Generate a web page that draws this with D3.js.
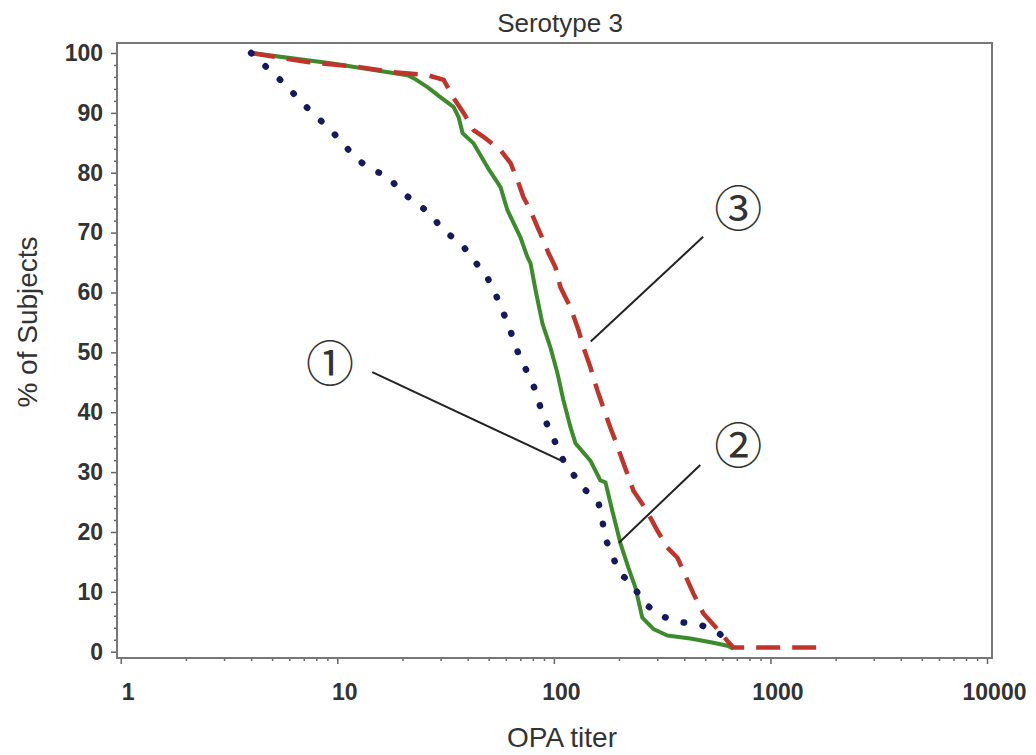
<!DOCTYPE html>
<html>
<head>
<meta charset="utf-8">
<script src="https://cdn.jsdelivr.net/npm/d3@7"></script>
<style>
  body { margin: 0; background: #fff; }
  text { font-family: "Liberation Sans", Arial, sans-serif; fill: #333; }
</style>
</head>
<body>
<div id="chart"></div>
<script>
// OPA titer (x) and % of subjects at or above it (y)
var curve1_titer = [4, 4.82, 5.65, 6.56, 7.61, 8.93, 10.4, 11.9, 13.9, 17.3, 19.6, 23.5, 27.5, 31.0, 37.1, 41.7, 48.3, 52.6, 56.7, 61.1, 65.1, 69.4, 76.4, 82.3, 86.7, 93.4, 101.7, 110.7, 121.8, 137, 160.7, 167.5, 173, 186, 201, 233, 256, 297, 364, 460, 575, 674];
var curve1_pct   = [100, 97.3, 95.0, 92.5, 90.1, 87.8, 85.3, 82.8, 80.8, 79.3, 76.8, 74.9, 72.7, 70.2, 68.4, 65.7, 63.2, 60.4, 57.9, 54.8, 52.2, 49.2, 46.3, 43.6, 40.8, 37.8, 34.9, 31.9, 29.8, 27.3, 24.9, 21.9, 18.9, 16.1, 13.2, 11.0, 8.5, 6.4, 5.0, 4.7, 3.2, 0.7];

var curve2_titer = [4, 9.31, 21.1, 22.5, 26.1, 30.0, 34.4, 36.3, 37.9, 42.6, 49.4, 56.7, 61.1, 70.1, 75.5, 78.0, 82.3, 88.6, 96.4, 103.9, 110.7, 119.3, 125.9, 147.5, 164, 173, 186, 203, 221, 238, 256, 288, 334, 427, 545, 633, 674];
var curve2_pct   = [100, 98.3, 96.3, 95.8, 94.3, 92.6, 91.0, 89.3, 86.6, 84.9, 80.9, 77.6, 73.7, 69.2, 65.9, 64.9, 60.4, 54.8, 50.8, 46.5, 42.0, 37.5, 34.8, 31.9, 28.6, 28.3, 23.6, 18.1, 14.0, 10.7, 5.7, 3.8, 2.7, 2.2, 1.5, 1.0, 0.5];

var curve3_titer = [4, 7.29, 12.4, 18.2, 26.1, 31.0, 34.4, 38.3, 42.6, 47.3, 56.7, 63.1, 67.9, 72.4, 78.0, 84.0, 89.5, 94.4, 101.7, 107.2, 119.3, 130, 137, 147.5, 159, 169, 182, 192, 210, 233, 256, 279, 301, 334, 372, 396, 441, 490, 569, 633, 674, 1645];
var curve3_pct   = [100, 98.5, 97.7, 96.8, 96.3, 95.5, 92.5, 90.0, 87.1, 86.0, 83.8, 81.6, 78.8, 75.9, 73.7, 70.9, 68.7, 66.6, 64.2, 60.9, 57.5, 53.7, 50.8, 47.5, 43.6, 40.8, 37.5, 35.3, 31.4, 26.9, 24.7, 22.4, 20.2, 17.4, 15.7, 13.5, 9.7, 6.4, 3.8, 1.8, 0.7, 0.7];

var x_ticks = [1, 10, 100, 1000, 10000];
var y_ticks = [0, 10, 20, 30, 40, 50, 60, 70, 80, 90, 100];

// circled labels and their leader lines, in data units
var note_text  = ["\u2460", "\u2461", "\u2462"];
var note_pos   = [[9.26, 48.7], [711, 35.0], [711, 74.6]];
var note_from  = [[14.5, 46.7], [474, 31.2], [489, 69.3]];
var note_to    = [[106.9, 32.0], [199.7, 18.2], [148, 51.8]];

var width = 1036, height = 755;
var plot = {left: 117, top: 43, right: 992, bottom: 658};

var svg = d3.select("#chart").append("svg")
  .attr("width", width)
  .attr("height", height);

var x = d3.scaleLog().domain([0.961, 10546]).range([plot.left, plot.right]);
var y = d3.scaleLinear().domain([-1.05, 101.67]).range([plot.bottom, plot.top]);

// minor ticks
var x_minor = [];
x_ticks.slice(0, -1).forEach(function(t) {
  for (var k = 2; k <= 9; k++) x_minor.push(t * k);
});
var y_minor = d3.range(0, 101, 2).filter(function(v) { return v % 10 !== 0; });

var gx = svg.append("g").attr("transform", "translate(0," + plot.bottom + ")");
gx.call(d3.axisBottom(x).tickValues(x_minor).tickSize(3).tickFormat(""));
gx.append("g").call(d3.axisBottom(x).tickValues(x_ticks).tickSize(6).tickPadding(20).tickFormat(d3.format("d")));
gx.selectAll(".domain").remove();
gx.selectAll("line").attr("stroke", "#666").attr("stroke-width", 1.5);
gx.selectAll("text").attr("dx", 7).style("font-size", "23px").style("font-weight", "bold").attr("fill", "#333");

var gy = svg.append("g").attr("transform", "translate(" + plot.left + ",0)");
gy.call(d3.axisLeft(y).tickValues(y_minor).tickSize(3).tickFormat(""));
gy.append("g").call(d3.axisLeft(y).tickValues(y_ticks).tickSize(6).tickPadding(8));
gy.selectAll(".domain").remove();
gy.selectAll("line").attr("stroke", "#666").attr("stroke-width", 1.5);
gy.selectAll("text").style("font-size", "23px").style("font-weight", "bold").attr("fill", "#333");

// frame
svg.append("rect")
  .attr("x", plot.left).attr("y", plot.top)
  .attr("width", plot.right - plot.left).attr("height", plot.bottom - plot.top)
  .attr("fill", "none").attr("stroke", "#777").attr("stroke-width", 2);

var line = d3.line()
  .x(function(d) { return x(d[0]); })
  .y(function(d) { return y(d[1]); });

var chart = svg.append("g");

chart.append("path")
  .datum(d3.zip(curve2_titer, curve2_pct))
  .attr("d", line)
  .attr("fill", "none").attr("stroke", "#3c8c2c").attr("stroke-width", 4)
  .attr("stroke-linejoin", "round");

chart.append("path")
  .datum(d3.zip(curve3_titer, curve3_pct))
  .attr("d", line)
  .attr("fill", "none").attr("stroke", "#c0352b").attr("stroke-width", 4.5)
  .attr("stroke-dasharray", "24 12");

chart.append("path")
  .datum(d3.zip(curve1_titer, curve1_pct))
  .attr("d", line)
  .attr("fill", "none").attr("stroke", "#161a5c").attr("stroke-width", 6.5)
  .attr("stroke-linecap", "round")
  .attr("stroke-dasharray", "0.5 19");

// annotations
var notes = svg.append("g");
note_text.forEach(function(t, i) {
  notes.append("line")
    .attr("x1", x(note_from[i][0])).attr("y1", y(note_from[i][1]))
    .attr("x2", x(note_to[i][0])).attr("y2", y(note_to[i][1]))
    .attr("stroke", "#222").attr("stroke-width", 2);
  notes.append("text")
    .attr("x", x(note_pos[i][0])).attr("y", y(note_pos[i][1]))
    .attr("text-anchor", "middle").attr("dominant-baseline", "central")
    .style("font-family", "'Noto Sans CJK SC', sans-serif")
    .style("font-size", "48px").attr("fill", "#111")
    .text(t);
});

// titles
svg.append("text")
  .attr("x", 560).attr("y", 32)
  .attr("text-anchor", "middle").style("font-size", "26px")
  .text("Serotype 3");

svg.append("text")
  .attr("x", 562).attr("y", 747)
  .attr("text-anchor", "middle").style("font-size", "28px")
  .text("OPA titer");

svg.append("text")
  .attr("transform", "translate(37,322) rotate(-90)")
  .attr("text-anchor", "middle").style("font-size", "28px")
  .text("% of Subjects");
</script>
</body>
</html>
